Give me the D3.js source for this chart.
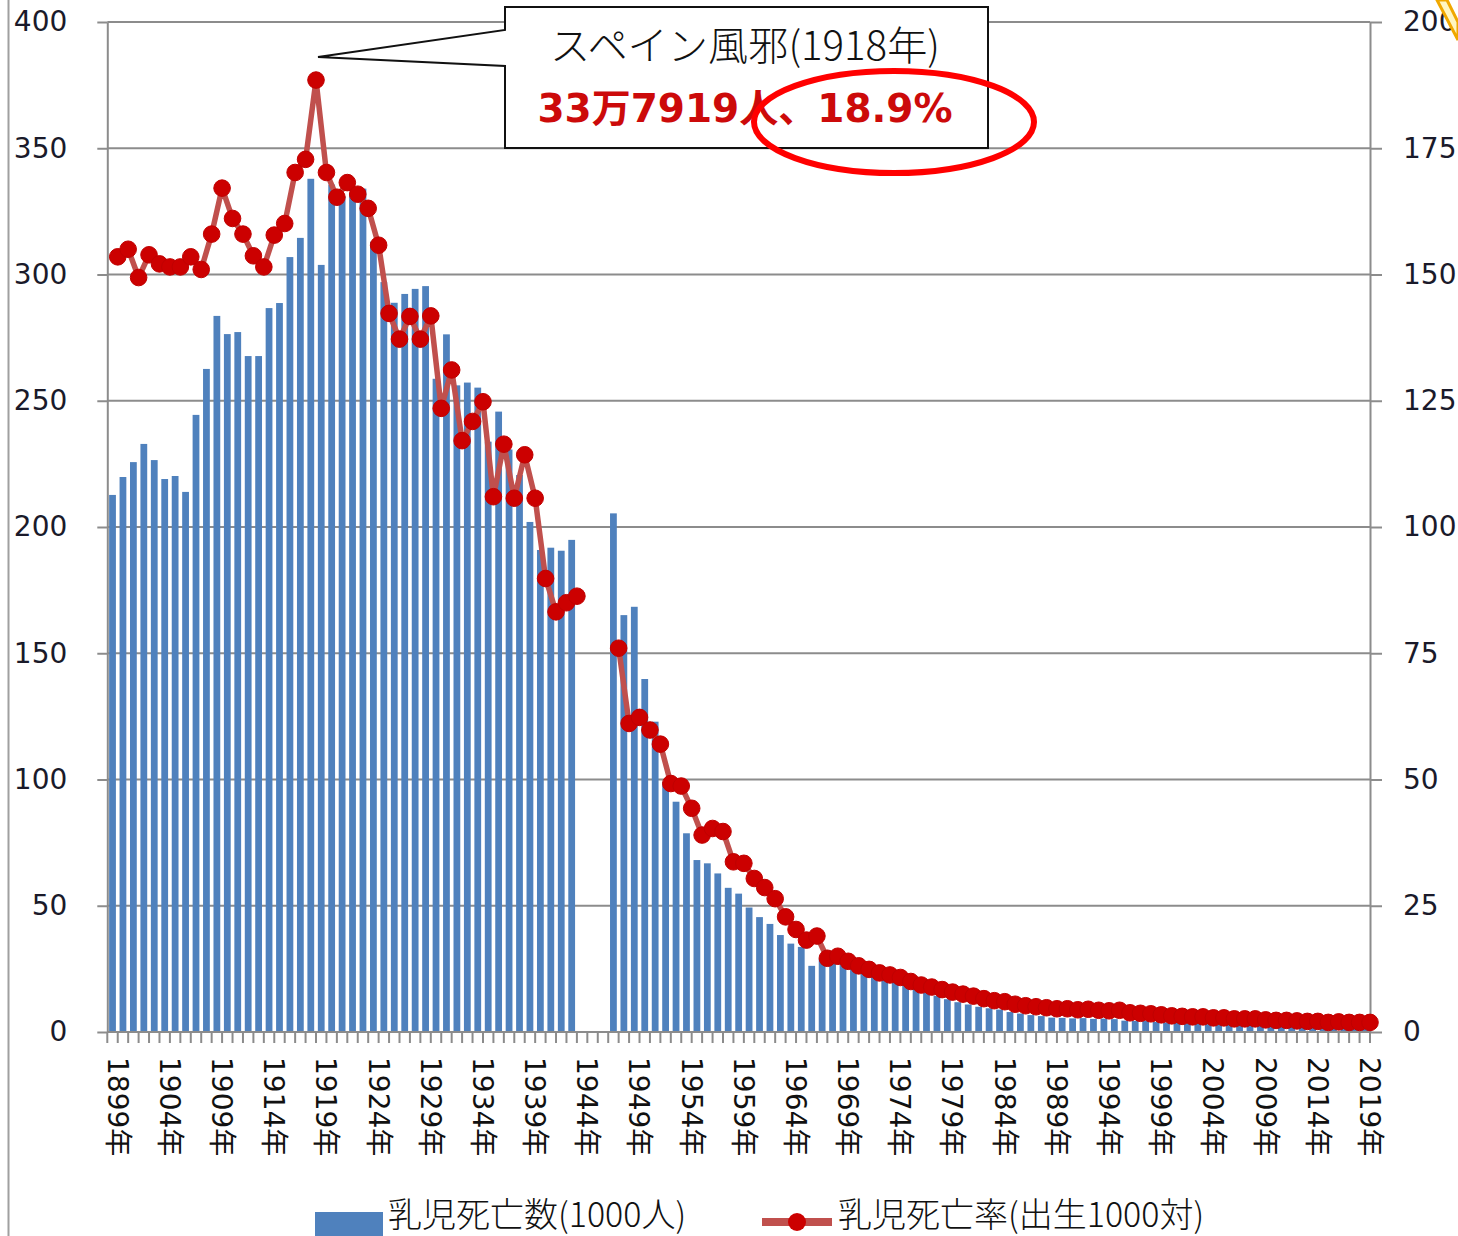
<!DOCTYPE html>
<html>
<head>
<meta charset="utf-8">
<script src="https://cdn.jsdelivr.net/npm/d3@7/dist/d3.min.js"></script>
<style>
  html, body { margin: 0; padding: 0; background: #fff; }
  svg { display: block; }
</style>
</head>
<body>
<svg id="chart" width="1458" height="1236"></svg>
<script>
// ---- categories (years) ----
const years = [
  1899,1900,1901,1902,1903,1904,1905,1906,1907,1908,1909,
  1910,1911,1912,1913,1914,1915,1916,1917,1918,1919,
  1920,1921,1922,1923,1924,1925,1926,1927,1928,1929,
  1930,1931,1932,1933,1934,1935,1936,1937,1938,1939,
  1940,1941,1942,1943,1944,1945,1946,1947,1948,1949,
  1950,1951,1952,1953,1954,1955,1956,1957,1958,1959,
  1960,1961,1962,1963,1964,1965,1966,1967,1968,1969,
  1970,1971,1972,1973,1974,1975,1976,1977,1978,1979,
  1980,1981,1982,1983,1984,1985,1986,1987,1988,1989,
  1990,1991,1992,1993,1994,1995,1996,1997,1998,1999,
  2000,2001,2002,2003,2004,2005,2006,2007,2008,2009,
  2010,2011,2012,2013,2014,2015,2016,2017,2018,2019
];

// ---- infant deaths (1000 persons), left axis ----
const deaths = [
  212.7,219.8,225.7,232.9,226.5,219.0,220.2,213.9,244.4,262.6,283.6,
  276.4,277.2,267.7,267.7,286.7,288.7,306.9,314.5,337.9,303.8,
  335.6,331.0,332.0,334.0,313.0,297.0,288.8,292.3,294.3,295.4,
  258.7,276.3,256.1,257.2,255.2,233.8,245.7,230.7,220.6,202.0,
  190.9,191.8,190.6,194.9,null,null,null,205.4,165.1,168.4,
  139.8,122.9,99.1,91.2,78.7,68.1,66.8,62.8,57.1,54.8,
  49.3,45.5,42.8,38.4,35.0,33.7,26.2,28.9,28.6,26.9,
  25.4,24.8,23.8,23.7,21.9,19.1,17.1,15.7,14.3,13.0,
  11.8,10.9,10.0,9.4,8.9,7.9,7.3,6.7,6.3,5.7,
  5.6,5.4,5.5,5.2,5.3,5.1,4.5,4.4,4.4,4.0,
  3.8,3.6,3.5,3.4,3.1,3.0,2.9,2.8,2.8,2.6,
  2.5,2.5,2.3,2.2,2.1,1.9,1.9,1.8,1.7,1.7
];

// ---- infant mortality rate (per 1000 births), right axis ----
const rates = [
  153.5,155.0,149.4,153.9,152.1,151.5,151.5,153.5,151.0,158.0,167.1,
  161.1,158.0,153.7,151.5,157.8,160.1,170.2,172.8,188.5,170.2,
  165.3,168.2,165.9,163.1,155.8,142.3,137.2,141.7,137.2,141.8,
  123.5,131.1,117.1,120.9,124.8,106.0,116.4,105.7,114.3,105.7,
  89.8,83.2,85.0,86.3,null,null,null,76.0,61.1,62.3,
  59.8,57.0,49.2,48.7,44.3,39.0,40.3,39.7,33.7,33.4,
  30.4,28.6,26.4,22.8,20.3,18.2,19.0,14.6,15.0,14.0,
  13.1,12.4,11.7,11.3,10.8,10.0,9.3,8.9,8.4,7.9,
  7.5,7.1,6.6,6.2,6.0,5.5,5.2,5.0,4.8,4.6,
  4.6,4.4,4.5,4.3,4.2,4.3,3.8,3.7,3.6,3.4,
  3.2,3.1,3.0,3.0,2.8,2.8,2.6,2.6,2.6,2.4,
  2.3,2.3,2.2,2.1,2.1,1.9,2.0,1.9,1.9,1.9
];

// ---- tick labels ----
const leftTicks = [0,50,100,150,200,250,300,350,400];
const rightTicks = [0,25,50,75,100,125,150,175,200];
const xLabelYears = [1899,1904,1909,1914,1919,1924,1929,1934,1939,1944,1949,1954,1959,1964,1969,1974,1979,1984,1989,1994,1999,2004,2009,2014,2019];

// ---- texts ----
const annoTitle = "スペイン風邪(1918年)";
const annoValue = "33万7919人、18.9%";
const legendBar = "乳児死亡数(1000人)";
const legendLine = "乳児死亡率(出生1000対)";

// ---- layout ----
const L = 107.3, R = 1370, T = 22, B = 1032;
const GRID = "#8c8c8c";
const NUMFONT = "'DejaVu Sans', 'Noto Sans CJK JP', sans-serif";
const CJKFONT = "'Noto Sans CJK JP', 'DejaVu Sans', sans-serif";

const svg = d3.select("#chart");

// left border line of the picture
svg.append("line").attr("x1", 8.5).attr("x2", 8.5).attr("y1", 0).attr("y2", 1236)
  .attr("stroke", "#a0a0a0").attr("stroke-width", 2);

const x = d3.scaleBand().domain(years).range([L, R]).paddingInner(0.35).paddingOuter(0.175);
const step = x.step();
const yL = d3.scaleLinear().domain([0, 400]).range([B, T]);
const yR = d3.scaleLinear().domain([0, 200]).range([B, T]);

// gridlines
svg.append("g").selectAll("line").data(leftTicks.filter(d => d > 0)).join("line")
  .attr("x1", L).attr("x2", R)
  .attr("y1", d => yL(d)).attr("y2", d => yL(d))
  .attr("stroke", GRID).attr("stroke-width", 2);

// bars
svg.append("g").selectAll("rect")
  .data(years.map((yr, i) => ({yr, v: deaths[i]})).filter(d => d.v != null))
  .join("rect")
  .attr("x", d => x(d.yr))
  .attr("width", x.bandwidth())
  .attr("y", d => yL(d.v))
  .attr("height", d => B - yL(d.v))
  .attr("fill", "#4f81bd");

// axes
function styleAxis(g) {
  g.select(".domain").attr("stroke", GRID).attr("stroke-width", 2);
  g.selectAll(".tick line").attr("stroke", GRID).attr("stroke-width", 2);
  g.selectAll(".tick text").attr("font-family", NUMFONT).attr("font-size", 28)
    .attr("fill", "#1a1a2a");
}
svg.append("g").attr("transform", `translate(${L},0)`)
  .call(d3.axisLeft(yL).tickValues(leftTicks).tickSize(10).tickSizeOuter(0).tickPadding(30).tickFormat(d3.format("d")))
  .call(styleAxis);
svg.append("g").attr("transform", `translate(${R},0)`)
  .call(d3.axisRight(yR).tickValues(rightTicks).tickSize(12).tickSizeOuter(0).tickPadding(21).tickFormat(d3.format("d")))
  .call(styleAxis);

// x baseline & tick marks at band boundaries
svg.append("line").attr("x1", L).attr("x2", R).attr("y1", B).attr("y2", B)
  .attr("stroke", GRID).attr("stroke-width", 2);
const boundaries = years.map(yr => x(yr) - step * 0.175).concat([R]);
svg.append("g").selectAll("line").data(boundaries).join("line")
  .attr("x1", d => d).attr("x2", d => d).attr("y1", B).attr("y2", B + 11)
  .attr("stroke", GRID).attr("stroke-width", 2);

// point x position: right edge of each band
const px = yr => x(yr) + x.bandwidth() / 2 + step / 2;

// x labels (rotated)
svg.append("g").selectAll("text").data(xLabelYears).join("text")
  .attr("transform", d => `translate(${px(d)},1057) rotate(90)`)
  .attr("dy", "0.36em")
  .attr("font-family", NUMFONT).attr("font-size", 28).attr("fill", "#111")
  .text(d => d + "年");

// line series
const pts = years.map((yr, i) => ({yr, v: rates[i]}));
const line = d3.line().defined(d => d.v != null).x(d => px(d.yr)).y(d => yR(d.v));
svg.append("path").attr("d", line(pts)).attr("fill", "none")
  .attr("stroke", "#c0504d").attr("stroke-width", 5.5).attr("stroke-linejoin", "round");
svg.append("g").selectAll("circle").data(pts.filter(d => d.v != null)).join("circle")
  .attr("cx", d => px(d.yr)).attr("cy", d => yR(d.v)).attr("r", 8.3)
  .attr("fill", "#cc0000").attr("stroke", "#c00000").attr("stroke-width", 1);

// annotation callout box
const bx0 = 505, bx1 = 988, by0 = 7, by1 = 148;
const tip = [px(1918) + 2, 57];
svg.append("path")
  .attr("d", `M${bx0},${by0} L${bx1},${by0} L${bx1},${by1} L${bx0},${by1} L${bx0},66 L${tip[0]},${tip[1]} L${bx0},30 Z`)
  .attr("fill", "#fff").attr("stroke", "#111").attr("stroke-width", 2);
svg.append("text").attr("x", 745).attr("y", 60).attr("text-anchor", "middle")
  .attr("font-family", CJKFONT).attr("font-size", 40).attr("font-weight", 300).attr("fill", "#111")
  .attr("textLength", 390).attr("lengthAdjust", "spacingAndGlyphs")
  .text(annoTitle);
svg.append("text").attr("x", 745).attr("y", 122).attr("text-anchor", "middle")
  .attr("font-family", NUMFONT).attr("font-size", 39).attr("font-weight", "bold").attr("fill", "#cc0a0a")
  .text(annoValue);

// red ellipse highlight
svg.append("ellipse").attr("cx", 894).attr("cy", 122).attr("rx", 140).attr("ry", 51)
  .attr("fill", "none").attr("stroke", "#ff0000").attr("stroke-width", 6);

// yellow shape at top right corner
svg.append("path").attr("d", "M1437,0 L1458,40 L1458,22 L1447,0 Z")
  .attr("fill", "#fff6c0").attr("stroke", "#f0a800").attr("stroke-width", 3);

// legend
svg.append("rect").attr("x", 315).attr("y", 1212).attr("width", 68).attr("height", 30).attr("fill", "#4f81bd");
svg.append("text").attr("x", 388).attr("y", 1227)
  .attr("font-family", CJKFONT).attr("font-size", 34).attr("font-weight", 300).attr("fill", "#111")
  .text(legendBar);
svg.append("line").attr("x1", 762).attr("x2", 832).attr("y1", 1222).attr("y2", 1222)
  .attr("stroke", "#c0504d").attr("stroke-width", 8);
svg.append("circle").attr("cx", 797).attr("cy", 1222).attr("r", 9).attr("fill", "#cc0000");
svg.append("text").attr("x", 838).attr("y", 1227)
  .attr("font-family", CJKFONT).attr("font-size", 34).attr("font-weight", 300).attr("fill", "#111")
  .text(legendLine);
</script>
</body>
</html>
